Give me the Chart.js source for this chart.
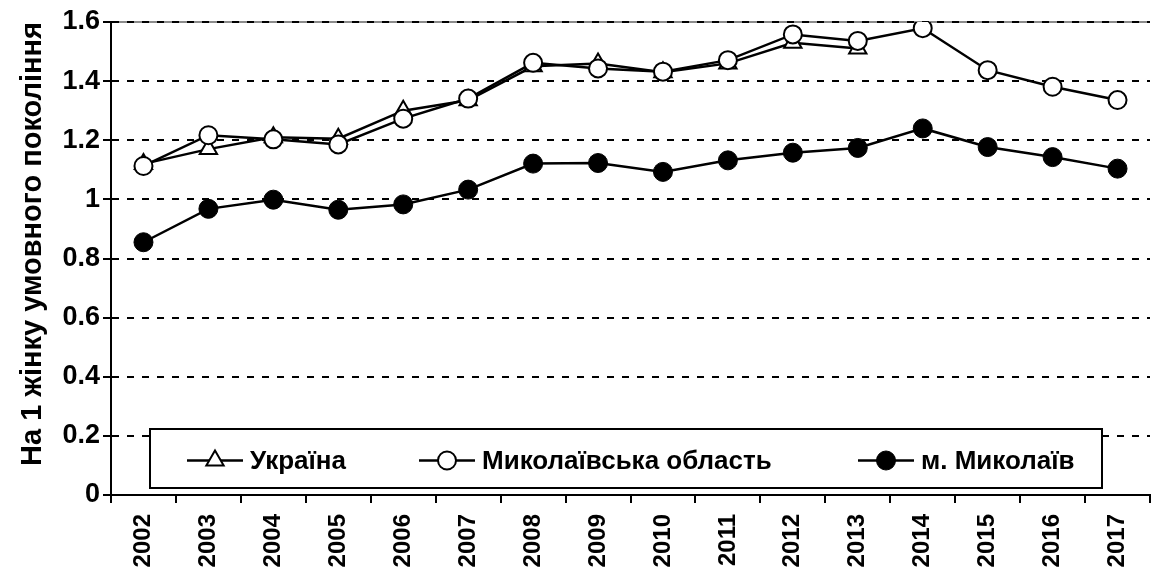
<!DOCTYPE html>
<html>
<head>
<meta charset="utf-8">
<script src="https://cdn.jsdelivr.net/npm/chart.js@4.4.0/dist/chart.umd.min.js"></script>
<style>
html, body { margin: 0; padding: 0; background: #fff; overflow: hidden; width: 1156px; height: 573px; }
#wrap { width: 1162px; height: 573px; }
</style>
</head>
<body>
<div id="wrap"><canvas id="lineChart" width="1162" height="573"></canvas></div>
<script>
// values
const years = ['2002', '2003', '2004', '2005', '2006', '2007', '2008', '2009',
               '2010', '2011', '2012', '2013', '2014', '2015', '2016', '2017'];
const ukraine = [1.12, 1.17, 1.21, 1.205, 1.30, 1.335, 1.45, 1.46, 1.43, 1.46, 1.53, 1.51,
                 null, null, null, null];
const oblast = [1.113, 1.217, 1.203, 1.186, 1.273, 1.341, 1.462, 1.443, 1.432, 1.471,
                1.558, 1.536, 1.579, 1.437, 1.381, 1.336];
const city = [0.855, 0.968, 0.999, 0.965, 0.983, 1.033, 1.121, 1.123, 1.093, 1.132,
              1.158, 1.174, 1.24, 1.177, 1.143, 1.104];
const seriesNames = ['Україна', 'Миколаївська область', 'м. Миколаїв'];
const yTitle = 'На 1 жінку умовного покоління';

const fontFamily = '"Liberation Sans", Arial, sans-serif';

// gray frame line on top of the plot area
const topFrame = {
    id: 'topFrame',
    beforeDraw(chart) {
        const ctx = chart.ctx, a = chart.chartArea;
        ctx.save();
        ctx.strokeStyle = '#8c8c8c';
        ctx.lineWidth = 2;
        ctx.beginPath();
        ctx.moveTo(a.left, a.top);
        ctx.lineTo(a.right, a.top);
        ctx.stroke();
        ctx.restore();
    }
};

// y axis title, sits a bit above the plot middle as in the original
const sideTitle = {
    id: 'sideTitle',
    afterDraw(chart) {
        const ctx = chart.ctx;
        ctx.save();
        ctx.translate(33, 244);
        ctx.rotate(-Math.PI / 2);
        ctx.fillStyle = '#000';
        ctx.font = 'bold 29px ' + fontFamily;
        ctx.textAlign = 'center';
        ctx.textBaseline = 'middle';
        ctx.fillText(yTitle, 0, 0);
        ctx.restore();
    }
};

// boxed legend sitting inside the plot, like the Excel original
const boxLegend = {
    id: 'boxLegend',
    afterDraw(chart) {
        const ctx = chart.ctx, a = chart.chartArea;
        const left = a.left + 39, top = a.bottom - 66, w = 952, h = 59;
        ctx.save();
        ctx.fillStyle = '#fff';
        ctx.fillRect(left, top, w, h);
        ctx.lineWidth = 2;
        ctx.strokeStyle = '#000';
        ctx.strokeRect(left, top, w, h);
        const cy = top + h / 2 + 2;
        const starts = [187, 419, 858];
        chart.data.datasets.forEach((ds, i) => {
            const x0 = starts[i];
            ctx.beginPath();
            ctx.moveTo(x0, cy);
            ctx.lineTo(x0 + 56, cy);
            ctx.lineWidth = 2.5;
            ctx.strokeStyle = '#000';
            ctx.stroke();
            ctx.fillStyle = ds.pointBackgroundColor;
            ctx.strokeStyle = ds.pointBorderColor;
            ctx.lineWidth = ds.pointBorderWidth;
            Chart.helpers.drawPoint(ctx, {
                pointStyle: ds.pointStyle, radius: ds.pointRadius,
                borderWidth: ds.pointBorderWidth, rotation: 0
            }, x0 + 28, cy);
            ctx.fillStyle = '#000';
            ctx.font = 'bold 26px ' + fontFamily;
            ctx.textBaseline = 'middle';
            ctx.textAlign = 'left';
            ctx.fillText(ds.label, x0 + 63, cy + 1);
        });
        ctx.restore();
    }
};

const ctx = document.getElementById('lineChart').getContext('2d');
new Chart(ctx, {
    type: 'line',
    data: {
        labels: years,
        datasets: [
            {
                label: seriesNames[0],
                data: ukraine,
                order: 3,
                borderColor: '#000',
                borderWidth: 2.5,
                pointStyle: 'triangle',
                pointRadius: 10,
                pointBorderWidth: 2,
                pointBackgroundColor: '#fff',
                pointBorderColor: '#000'
            },
            {
                label: seriesNames[1],
                data: oblast,
                order: 2,
                borderColor: '#000',
                borderWidth: 2.5,
                pointStyle: 'circle',
                pointRadius: 9,
                pointBorderWidth: 2,
                pointBackgroundColor: '#fff',
                pointBorderColor: '#000'
            },
            {
                label: seriesNames[2],
                data: city,
                order: 1,
                borderColor: '#000',
                borderWidth: 2.5,
                pointStyle: 'circle',
                pointRadius: 9.5,
                pointBorderWidth: 1,
                pointBackgroundColor: '#000',
                pointBorderColor: '#000'
            }
        ]
    },
    options: {
        responsive: false,
        animation: false,
        layout: { padding: { top: 22, right: 1, left: 0, bottom: 0 } },
        plugins: {
            legend: { display: false },
            tooltip: { enabled: false }
        },
        scales: {
            x: {
                offset: true,
                afterFit(scale) { scale.height = 78; },
                ticks: {
                    color: '#000',
                    font: { family: fontFamily, size: 24, weight: 'bold' },
                    minRotation: 90,
                    maxRotation: 90,
                    padding: 11,
                    autoSkip: false
                },
                grid: {
                    offset: true,
                    drawOnChartArea: false,
                    drawTicks: true,
                    tickLength: 8,
                    color: '#000',
                    lineWidth: 2
                },
                border: { color: '#000', width: 2 }
            },
            y: {
                min: 0,
                max: 1.6,
                afterFit(scale) { scale.width = 111; },
                ticks: {
                    stepSize: 0.2,
                    color: '#000',
                    padding: 3,
                    font: { family: fontFamily, size: 27, weight: 'bold' },
                    callback: v => String(+v.toFixed(1))
                },
                grid: {
                    color: '#000',
                    lineWidth: 2,
                    tickLength: 8,
                    tickBorderDash: []
                },
                border: { color: '#000', width: 2, dash: [7, 8] }
            }
        }
    },
    plugins: [topFrame, sideTitle, boxLegend]
});
</script>
</body>
</html>
